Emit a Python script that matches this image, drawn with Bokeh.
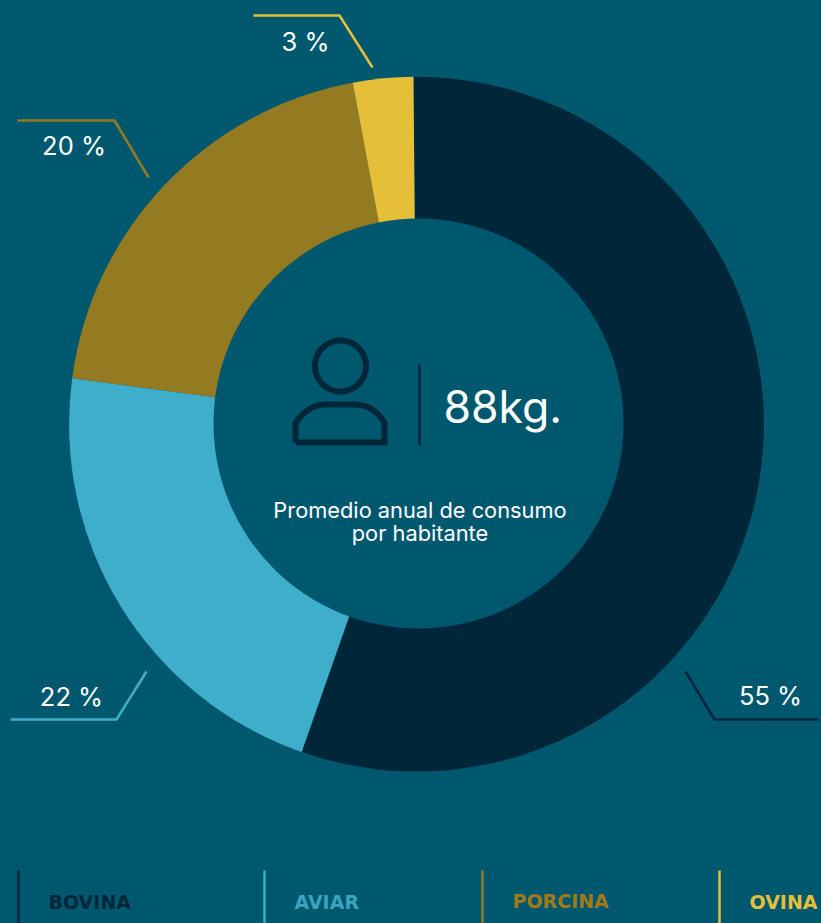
import numpy as np
from bokeh.plotting import figure
from bokeh.models import Range1d
from bokeh.core.properties import value
from bokeh.embed import file_html
from bokeh.resources import INLINE

# ---- data
categories = ["BOVINA", "AVIAR", "PORCINA", "OVINA"]
shares = [55.5, 21.75, 19.95, 2.8]
share_labels = ["55 %", "22 %", "20 %", "3 %"]
colors = ["#00263a", "#3eaeca", "#947b22", "#e6bf38"]
legend_colors = ["#00263a", "#3ba3bf", "#a07a1a", "#e6bf38"]
total_value = "88kg."
caption = ["Promedio anual de consumo", "por habitante"]

W, H = 821, 923
BG = "#00586f"
FONT = "Inter"
def Y(v):
    return H - np.asarray(v, dtype=float)

p = figure(width=W, height=H, output_backend="svg", toolbar_location=None,
           x_range=Range1d(0, W), y_range=Range1d(0, H),
           background_fill_color=BG, border_fill_color=BG, min_border=0,
           outline_line_color=None)
p.axis.visible = False
p.grid.visible = False

# donut
frac = np.cumsum([0] + shares) / sum(shares) * 2 * np.pi
offset = np.pi / 2 + np.radians(0.5)
p.wedge(x=416, y=Y(423.7), radius=347.4,
        start_angle=offset - frac[:-1], end_angle=offset - frac[1:],
        direction="clock", fill_color=colors, line_color=None)
p.scatter(x=[418], y=Y([423]), size=410, marker="circle", fill_color=BG, line_color=None)

# leader lines
leaders = {
    0: ([818, 714, 685], [719, 719, 671]),
    1: ([10, 116, 146], [719, 719, 671]),
    2: ([17, 114, 148], [120, 120, 177]),
    3: ([253, 339, 372], [15, 15, 67]),
}
for i, (lx, ly) in leaders.items():
    p.line(lx, Y(ly), line_color=colors[i], line_width=2.5)

# share labels
label_pos = [(770, 695), (71, 696), (73.5, 144.5), (305, 40.5)]
for t, (lx, ly) in zip(share_labels, label_pos):
    p.text([lx], Y([ly]), text=[t], text_color="white", text_font=value(FONT),
           text_font_size="25.5px", text_align="center", text_baseline="middle")

# person icon
DARK = colors[0]
th = np.linspace(0, 2 * np.pi, 90)
p.line(340 + 25.5 * np.cos(th), Y(365.5 + 25.5 * np.sin(th)), line_color=DARK, line_width=6)
def bez(a, b, c, d, n=24):
    t = np.linspace(0, 1, n)[:, None]
    a, b, c, d = map(np.array, (a, b, c, d))
    return (1-t)**3*a + 3*(1-t)**2*t*b + 3*(1-t)*t**2*c + t**3*d
left = bez((295, 423), (302, 411), (313, 404), (326, 404))
right = bez((354, 404), (367, 404), (378, 411), (384, 423))
body = np.vstack([[(295, 442)], left, right, [(384, 442)], [(295, 442)]])
p.line(body[:, 0], Y(body[:, 1]), line_color=DARK, line_width=6, line_join="miter")
p.line([419, 419], Y([364, 445]), line_color=DARK, line_width=2.5)

# centre text
p.text([443], Y([406.5]), text=[total_value], text_color="white", text_font=value(FONT),
       text_font_size="44.5px", text_font_style="normal", text_align="left", text_baseline="middle")
for t, ly in zip(caption, [509.5, 532.5]):
    p.text([419.5], Y([ly]), text=[t], text_color="white", text_font=value(FONT),
           text_font_size="21.8px", text_align="center", text_baseline="middle")

# legend
bar_x = [18, 264, 482, 719]
text_x = [48, 294, 512, 749]
text_y = [901.5, 901.5, 900.5, 901.5]
for i, (c, bx, tx, ty) in enumerate(zip(categories, bar_x, text_x, text_y)):
    p.line([bx, bx], Y([870, 923]), line_color=colors[i], line_width=2.5)
    p.text([tx], Y([ty]), text=[c], text_color=legend_colors[i], text_font=value("DejaVu Sans"),
           text_font_size="19px", text_font_style="bold", text_align="left", text_baseline="middle")

html = file_html(p, INLINE)
html = html.replace("<head>", "<head><style>html,body{margin:0;padding:0;background:%s;overflow:hidden}</style>" % BG, 1)
open("out.html", "w").write(html)
